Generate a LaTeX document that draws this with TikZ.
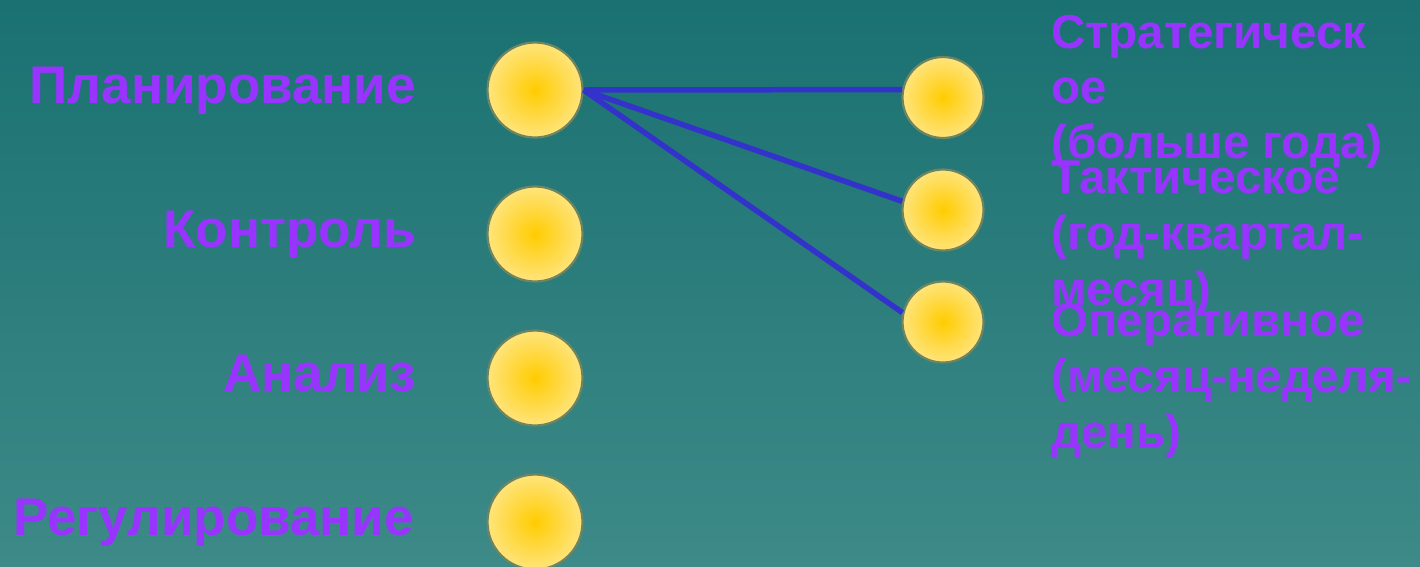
\documentclass[tikz,border=0pt]{standalone}
\usepackage{fontspec}
\setmainfont{Liberation Sans}
\usetikzlibrary{calc}
\definecolor{bgtop}{HTML}{1A7171}
\definecolor{bgbot}{HTML}{3D8A88}
\definecolor{txt}{HTML}{9933FF}
\definecolor{linec}{HTML}{3333CC}
\definecolor{ballc}{HTML}{FFCC00}
\definecolor{ballm}{HTML}{FFDC55}
\definecolor{balle}{HTML}{FFEEA8}
\definecolor{ballrim}{HTML}{6E8560}
\pgfdeclareradialshading{ball}{\pgfpoint{0bp}{0bp}}{color(0bp)=(ballc); color(17bp)=(ballm); color(35bp)=(balle); color(50bp)=(balle)}
\tikzset{
  ballnode/.style={circle, inner sep=0pt, minimum size=#1, shading=ball, draw=ballrim, line width=2.2pt},
  lefttxt/.style={text=txt, font=\fontsize{53}{60}\selectfont\bfseries, anchor=base east, inner sep=0pt},
  righttxt/.style={text=txt, font=\fontsize{47.5}{55}\selectfont\bfseries, anchor=base west, inner sep=0pt, align=left},
  link/.style={draw=linec, line width=5.5pt}
}
\begin{document}
\begin{tikzpicture}[x=1pt, y=-1pt]
\useasboundingbox (0,0) rectangle (1420,566);
\shade[top color=bgtop, bottom color=bgbot] (0,0) rectangle (1420,566);

\node[ballnode=95pt] (p) at (535,90) {};
\node[ballnode=95pt] (k) at (535,234) {};
\node[ballnode=95pt] (a) at (535,378) {};
\node[ballnode=95pt] (r) at (535,522) {};

\node[ballnode=81pt] (s1) at (943,97.5) {};
\node[ballnode=81pt] (s2) at (943,210) {};
\node[ballnode=81pt] (s3) at (943,322) {};

\draw[link] (p.east) -- (s1.169);
\draw[link] (p.east) -- (s2.168);
\draw[link] (p.east) -- (s3.167);

\node[lefttxt] (lp) at (416,103) {Планирование};
\node[lefttxt] (lk) at (416,247) {Контроль};
\node[lefttxt] (la) at (416,391) {Анализ};
\node[lefttxt] (lr) at (414,535) {Регулирование};

\node[righttxt] (t1a) at (1051,48) {Стратегическ};
\node[righttxt] (t1b) at (1051,103) {ое};
\node[righttxt] (t1c) at (1051,158) {(больше года)};

\node[righttxt] (t2a) at (1051,193) {Тактическое};
\node[righttxt] (t2b) at (1051,249) {(год-квартал-};
\node[righttxt] (t2c) at (1051,305) {месяц)};

\node[righttxt] (t3a) at (1051,336) {Оперативное};
\node[righttxt] (t3b) at (1051,392) {(месяц-неделя-};
\node[righttxt] (t3c) at (1051,448) {день)};
\end{tikzpicture}
\end{document}
